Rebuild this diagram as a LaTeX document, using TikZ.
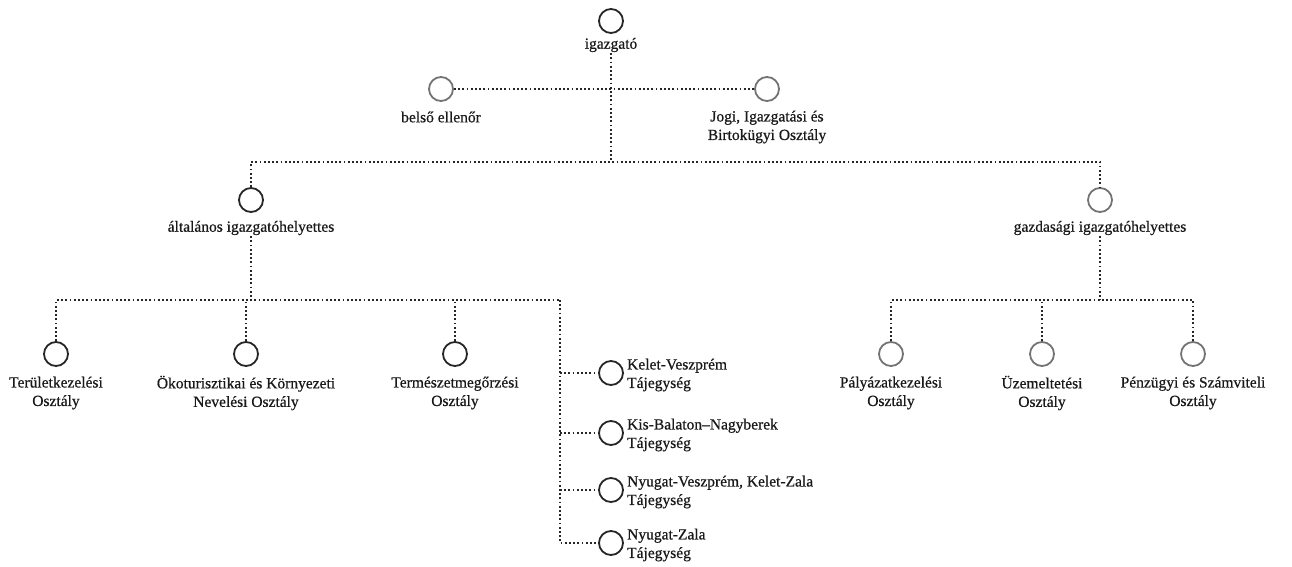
\documentclass[tikz,border=0pt]{standalone}
\usepackage{fontspec}
\setmainfont{Liberation Serif}
\newfontfamily\lblfont[FakeBold=0.6]{Liberation Serif}
\begin{document}
\begin{tikzpicture}[x=1pt,y=-1pt,
  org/.style={circle,draw=black!85,line width=1.8pt,minimum size=24pt,inner sep=0pt},
  orgg/.style={org,draw=black!55},
  lbl/.style={font=\lblfont\fontsize{15.5}{18.5}\selectfont,align=center,inner sep=1pt,text=black!90},
  lblw/.style={lbl,align=left,anchor=west},
  conn/.style={line width=2pt,dash pattern=on 1.8pt off 2.4pt,draw=black!85}]
\useasboundingbox (0,0) rectangle (1292,567);
% top
\node[org] (ig) at (611,21) {};
\node[lbl] (igL) at (611,45) {igazgató};
\node[orgg] (bel) at (441,89) {};
\node[lbl] (belL) at (441,117) {belső ellenőr};
\node[orgg] (jog) at (767,89) {};
\node[lbl] (jogL) at (767,127) {Jogi, Igazgatási és\\Birtokügyi Osztály};
\coordinate (jA) at (611,162);
% deputies
\node[org] (alt) at (251,200) {};
\node[lbl] (altL) at (251,228) {általános igazgatóhelyettes};
\node[orgg] (gaz) at (1100,200) {};
\node[lbl] (gazL) at (1100,228) {gazdasági igazgatóhelyettes};
% left children
\coordinate (jL) at (251,300);
\coordinate (jLR) at (560,300);
\node[org] (ter) at (56,354) {};
\node[lbl] (terL) at (56,393) {Területkezelési\\Osztály};
\node[org] (oko) at (246,354) {};
\node[lbl] (okoL) at (246,393) {Ökoturisztikai és Környezeti\\Nevelési Osztály};
\node[org] (tem) at (455,354) {};
\node[lbl] (temL) at (455,393) {Természetmegőrzési\\Osztály};
\node[org] (k1) at (611,373) {};
\node[lblw] (k1L) at (626,375) {Kelet-Veszprém\\Tájegység};
\node[org] (k2) at (611,433) {};
\node[lblw] (k2L) at (626,435) {Kis-Balaton–Nagyberek\\Tájegység};
\node[org] (k3) at (611,490) {};
\node[lblw] (k3L) at (626,492) {Nyugat-Veszprém, Kelet-Zala\\Tájegység};
\node[org] (k4) at (611,543) {};
\node[lblw] (k4L) at (626,545) {Nyugat-Zala\\Tájegység};
% right children
\coordinate (jR) at (1100,300);
\node[orgg] (pal) at (891,354) {};
\node[lbl] (palL) at (891,393) {Pályázatkezelési\\Osztály};
\node[orgg] (uz) at (1042,354) {};
\node[lbl] (uzL) at (1042,393) {Üzemeltetési\\Osztály};
\node[orgg] (pen) at (1193,354) {};
\node[lbl] (penL) at (1193,393) {Pénzügyi és Számviteli\\Osztály};
% connectors
\draw[conn] (igL.south) -- (jA);
\draw[conn] (bel.east) -- (jog.west);
\draw[conn] (alt.north) |- (jA) -| (gaz.north);
\draw[conn] (altL.south) -- (jL);
\draw[conn] (ter.north) |- (jLR);
\draw[conn] (oko.north) -- (oko.north |- jL);
\draw[conn] (tem.north) -- (tem.north |- jL);
\draw[conn] (jLR) |- (k4.west);
\draw[conn] (jLR |- k1) -- (k1.west);
\draw[conn] (jLR |- k2) -- (k2.west);
\draw[conn] (jLR |- k3) -- (k3.west);
\draw[conn] (gazL.south) -- (jR);
\draw[conn] (pal.north) |- (jR) -| (pen.north);
\draw[conn] (uz.north) -- (uz.north |- jR);
\end{tikzpicture}
\end{document}
